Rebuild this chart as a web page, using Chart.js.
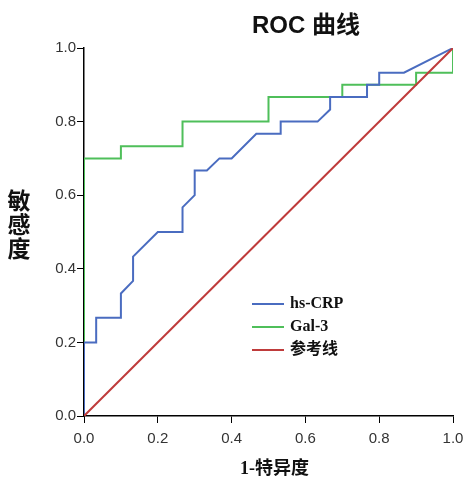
<!DOCTYPE html>
<html>
<head>
<meta charset="utf-8">
<script src="https://cdn.jsdelivr.net/npm/chart.js@4/dist/chart.umd.min.js"></script>
<style>
  body { margin: 0; background: #fff; }
  #wrap { width: 465px; height: 478px; }
</style>
</head>
<body>
<div id="wrap"><canvas id="roc" width="465" height="478"></canvas></div>
<script>
// ROC data (1-specificity, sensitivity)
const crpX = [0, 0, 0.033, 0.033, 0.1, 0.1, 0.133, 0.133, 0.2, 0.267, 0.267, 0.3, 0.3, 0.333, 0.367, 0.4, 0.467, 0.533, 0.533, 0.633, 0.667, 0.667, 0.767, 0.767, 0.8, 0.8, 0.867, 1.0];
const crpY = [0, 0.2, 0.2, 0.267, 0.267, 0.333, 0.367, 0.433, 0.5, 0.5, 0.567, 0.6, 0.667, 0.667, 0.7, 0.7, 0.767, 0.767, 0.8, 0.8, 0.833, 0.867, 0.867, 0.9, 0.9, 0.933, 0.933, 1.0];

const galX = [0, 0, 0.1, 0.1, 0.267, 0.267, 0.5, 0.5, 0.7, 0.7, 0.9, 0.9, 1.0, 1.0];
const galY = [0, 0.7, 0.7, 0.733, 0.733, 0.8, 0.8, 0.867, 0.867, 0.9, 0.9, 0.933, 0.933, 1.0];

const refX = [0, 1];
const refY = [0, 1];

const tickVals = [0, 0.2, 0.4, 0.6, 0.8, 1.0];
const seriesNames = ["hs-CRP", "Gal-3", "参考线"];

function pts(xs, ys) {
  return xs.map((x, i) => ({ x: x, y: ys[i] }));
}

const serifFont = '"Liberation Serif", "Times New Roman", "Noto Sans CJK SC", serif';
const sansFont = '"Liberation Sans", Arial, "Noto Sans CJK SC", sans-serif';

// title, stacked y title, x title and legend
const extras = {
  id: 'extras',
  afterDraw(chart) {
    const c = chart.ctx;
    const area = chart.chartArea;
    c.save();
    c.fillStyle = '#111';
    c.textAlign = 'center';
    c.textBaseline = 'alphabetic';
    c.font = 'bold 24px ' + sansFont;
    c.fillText('ROC 曲线', 306, 33);

    c.font = 'bold 23px ' + serifFont;
    c.textBaseline = 'middle';
    ['敏', '感', '度'].forEach((ch, i) => c.fillText(ch, 19, 203 + i * 24));

    c.font = 'bold 18px ' + serifFont;
    c.fillText('1-特异度', (area.left + area.right) / 2 + 6, 469);

    // legend
    c.textAlign = 'left';
    c.font = 'bold 16px ' + serifFont;
    chart.data.datasets.forEach((ds, i) => {
      const y = 304 + i * 23;
      c.strokeStyle = ds.borderColor;
      c.lineWidth = 2;
      c.beginPath();
      c.moveTo(252, y);
      c.lineTo(284, y);
      c.stroke();
      c.fillStyle = '#111';
      c.fillText(ds.label, 290, y);
    });
    c.restore();
  }
};

new Chart(document.getElementById('roc'), {
  type: 'scatter',
  data: {
    datasets: [
      { label: seriesNames[0], data: pts(crpX, crpY), borderColor: '#4a6cc0', order: 2 },
      { label: seriesNames[1], data: pts(galX, galY), borderColor: '#4fbf5a', order: 3 },
      { label: seriesNames[2], data: pts(refX, refY), borderColor: '#bf3b3b', order: 1 }
    ]
  },
  options: {
    responsive: false,
    animation: false,
    showLine: true,
    layout: { padding: { left: 0, top: 48, right: 12, bottom: 0 } },
    elements: {
      line: { borderWidth: 2, tension: 0, fill: false },
      point: { radius: 0, hoverRadius: 0 }
    },
    plugins: { legend: { display: false }, tooltip: { enabled: false } },
    scales: {
      x: {
        type: 'linear', min: 0, max: 1,
        afterBuildTicks: s => { s.ticks = tickVals.map(v => ({ value: v })); },
        afterFit: s => { s.height = 62; s.paddingLeft = 0; s.paddingRight = 0; },
        grid: { drawOnChartArea: false, drawTicks: true, tickLength: 7, color: '#000' },
        border: { display: true, color: '#000', width: 1.5 },
        ticks: { color: '#333', font: { family: sansFont, size: 15 }, padding: 7,
                 maxRotation: 0, callback: v => v.toFixed(1) }
      },
      y: {
        type: 'linear', min: 0, max: 1,
        afterBuildTicks: s => { s.ticks = tickVals.map(v => ({ value: v })); },
        afterFit: s => { s.width = 84; s.paddingTop = 0; s.paddingBottom = 0; },
        grid: { drawOnChartArea: false, drawTicks: true, tickLength: 7, color: '#000' },
        border: { display: true, color: '#000', width: 1.5 },
        ticks: { color: '#333', font: { family: sansFont, size: 15 }, padding: 1,
                 callback: v => v.toFixed(1) }
      }
    }
  },
  plugins: [extras]
});
</script>
</body>
</html>
